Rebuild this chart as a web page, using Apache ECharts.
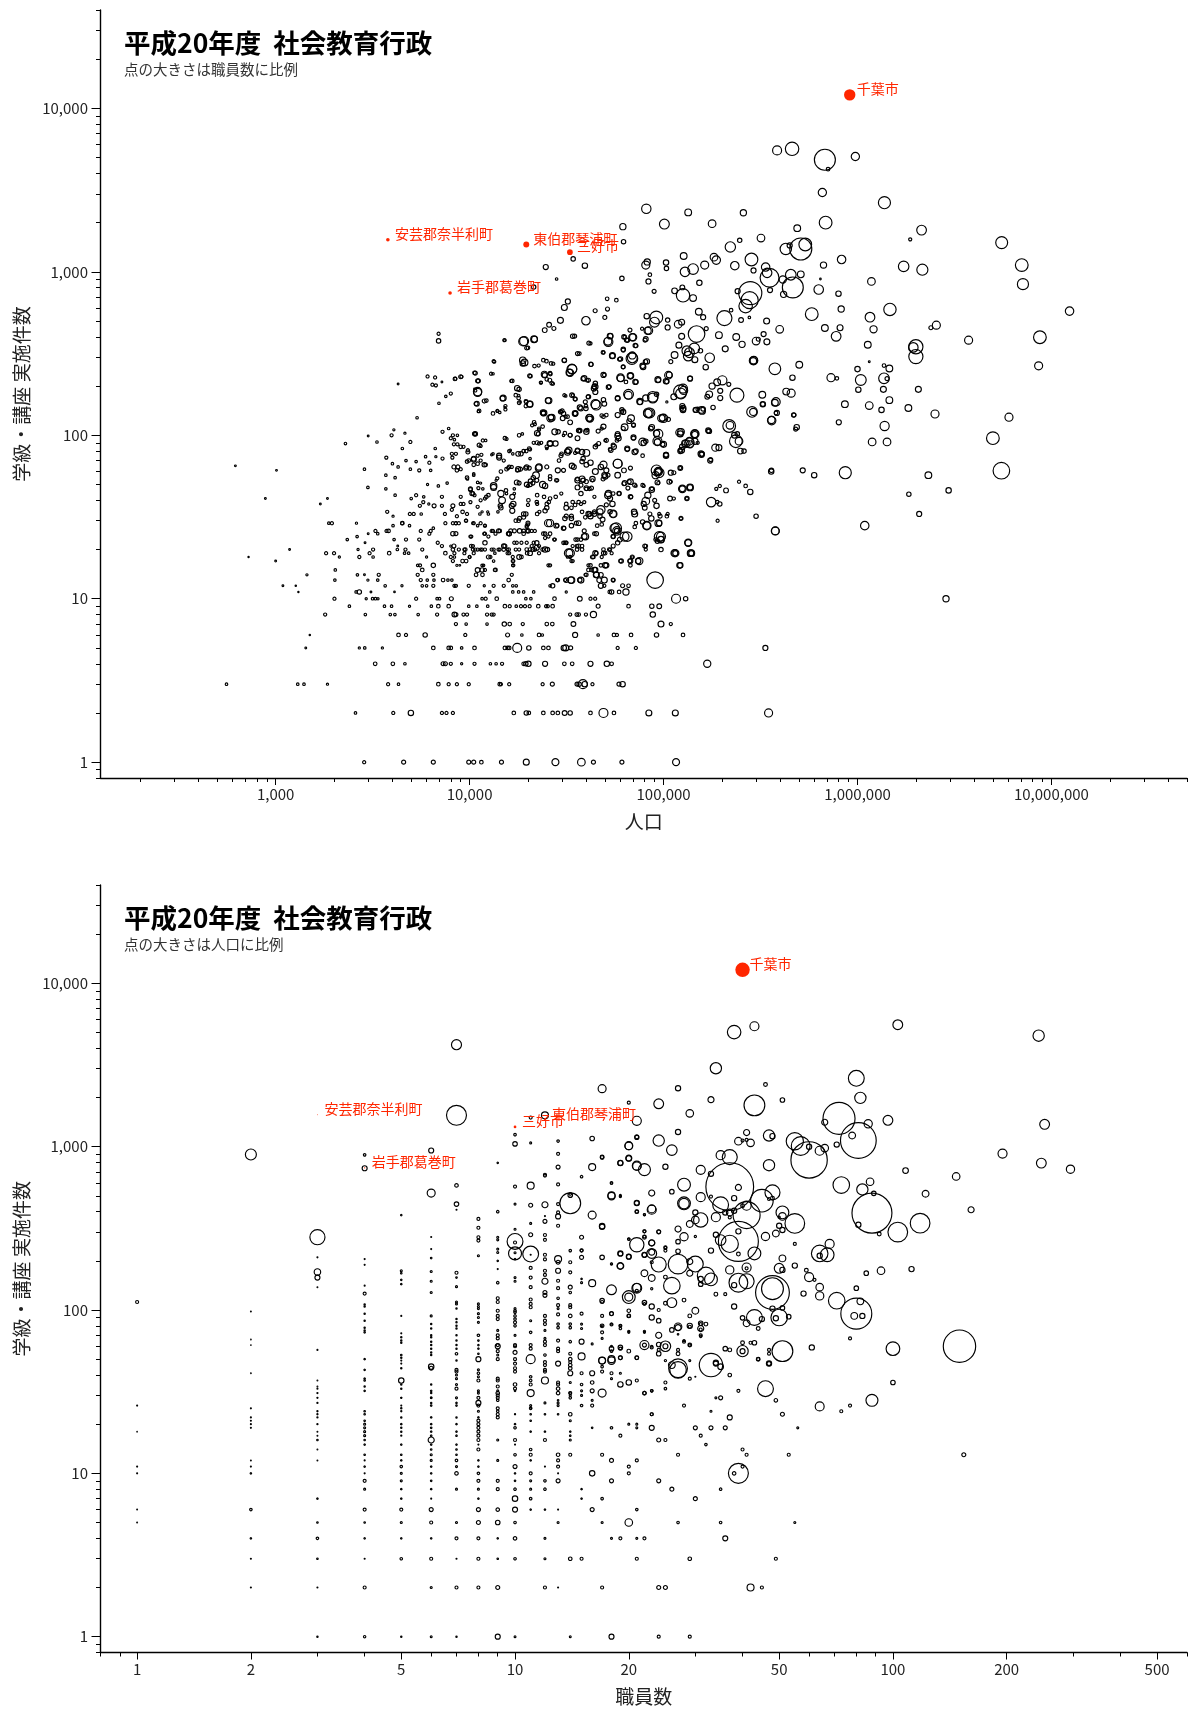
<!DOCTYPE html>
<html><head><meta charset="utf-8">
<script src="https://cdn.jsdelivr.net/npm/echarts@6/dist/echarts.min.js"></script>
<style>html,body{margin:0;padding:0;background:#fff}#c{width:1190px;height:1710px}</style>
</head><body><div id="c"></div>
<script>
// Chart 1: [population, classes held, staff]
const popLowRows = [
[2860,1,3],[4570,1,5],[6500,1,5],[9900,1,5],[10500,1,5],[11500,1,4],[14600,1,5],[19600,1,11],[27700,1,15],[37700,1,18],[43500,1,5],[61000,1,5],[116000,1,15],
[2580,2,2],[4040,2,3],[4980,2,9],[7200,2,3],[7600,2,3],[8200,2,3],[16900,2,4],[19600,2,6],[20200,2,4],[24000,2,4],[26800,2,4],[28500,2,4],[30900,2,7],[33000,2,6],[42000,2,4],[49000,2,25],[55500,2,4],[84000,2,11],[115000,2,11],[348000,2,20],
[558,3,2],[1300,3,2],[1400,3,2],[1850,3,1.5],[3800,3,3],[4300,3,2],[6900,3,4],[7800,3,3],[8600,3,3],[9900,3,3],[14300,3,4],[14500,3,3],[16000,3,3],[23800,3,3],[26700,3,5],[35800,3,5],[36700,3,6],[38400,3,25],[39200,3,9],[43000,3,3],[58900,3,5],[61500,3,9],
[3260,4,4],[4020,4,4],[4640,4,2],[7300,4,5],[7500,4,5],[8000,4,3],[9100,4,1.5],[10600,4,3],[12800,4,2],[13700,4,2],[14700,4,3],[19000,4,4],[19500,4,6],[20100,4,9],[24500,4,8],[30800,4,4],[33800,4,4],[42000,4,8],[51000,4,9],[54000,4,4],[168000,4,16],
[1430,5,1],[2700,5,1.5],[2880,5,2],[3550,5,1.5],[6500,5,4],[7800,5,4],[8000,5,4],[9100,5,2],[10600,5,4],[15200,5,4],[15700,5,4],[16000,5,4],[17600,5,25],[20200,5,6],[24000,5,4],[25500,5,4],[30600,5,9],[31300,5,11],[33200,5,5],[58000,5,3],[72000,5,3],[335000,5,8],
[1500,6,0.6],[4300,6,4],[4700,6,3],[5900,6,6],[9500,6,3],[15700,6,5],[18600,6,2],[22800,6,4],[23700,6,2],[35000,6,8],[46000,6,2],[55500,6,4],[57500,6,3],[68000,6,4],[92000,6,6],[126000,6,4],
[8500,7,3],[9600,7,2],[12300,7,2],[15100,7,6],[16100,7,4],[18800,7,3],[25000,7,4],[26700,7,4],[34300,7,7],[97000,7,11],[109000,7,3],
[1800,8,3],[2900,8,2],[3900,8,2],[4120,8,2],[5430,8,2],[6800,8,3],[8350,8,7],[8500,8,5],[9300,8,3],[9700,8,3],[12300,8,3],[13000,8,3],[13300,8,3],[33000,8,3],[35700,8,4],[36500,8,4],[39800,8,3],[43500,8,12],[88000,8,9],
[2400,9,2],[3640,9,2],[3960,9,2],[4900,9,1.5],[6350,9,2],[6900,9,4],[7800,9,4],[9900,9,2],[10900,9,2],[12400,9,2],[15200,9,4],[16100,9,3],[17400,9,2],[18400,9,3],[19300,9,3],[20400,9,3],[22600,9,4],[24800,9,3],[25300,9,3],[26800,9,4],[46000,9,5],[66000,9,4],[87000,9,6],[95000,9,7],
[2010,10,3],[2930,10,1.5],[3160,10,2],[3270,10,2],[3370,10,1.5],[5300,10,3],[6800,10,2],[7000,10,2],[8050,10,5],[11600,10,2],[12100,10,3],[13800,10,4],[19500,10,2],[20700,10,2],[27400,10,4],[37000,10,7],[42000,10,3],[44400,10,3],[116000,10,25],[130000,10,6],
[1310,11,0.5],[2600,11,2],[2700,11,6],[3100,11,1],[4100,11,0.8],[12700,11,2],[16700,11,2],[17900,11,2],[19000,11,2],[21400,11,2],[31500,11,1.5],[52800,11,4],[54000,11,6],[59000,11,4],[64000,11,12],
[1090,12,1],[1270,12,0.6],[3670,12,2],[4480,12,1.5],[5700,12,2],[6000,12,2],[6500,12,3],[8350,12,3],[8500,12,3],[9900,12,3],[11900,12,1.5],[13300,12,3],[15000,12,3],[16700,12,2],[17400,12,2],[26000,12,2],[26800,12,6],[47500,12,8],[49500,12,3],[61500,12,5],[66000,12,4],
[2020,13,2],[2990,13,1.5],[3360,13,2],[5600,13,3],[6050,13,2],[6550,13,2],[7300,13,4],[7730,13,2],[8100,13,2],[15900,13,4],[28300,13,3],[31100,13,3],[33300,13,12],[37000,13,6],[46600,13,7],[55000,13,3],[90500,13,85],
[1450,14,1.5],[2640,14,2],[2870,14,1],[3400,14,3],[5400,14,3],[6500,14,3],[11650,14,4],[16500,14,3],[39600,14,3],[45000,14,9],
[2030,15,2],[5700,15,4],[11600,15,6],[12000,15,3],[13500,15,3],[41000,15,4],[44000,15,9],
[5400,16,2],[5550,16,3],[6500,16,6],[8900,16,1],[11600,16,2],[16700,16,2],[26000,16,3],[41000,16,3],[47500,16,4],[50000,16,9],[122000,16,9],
[1000,17,1],[13300,17,2],[16700,17,3],[33500,17,3],[60000,17,4],[67000,17,5],[74000,17,9],
[725,18,0.5],[2130,18,1.5],[2700,18,3],[3180,18,2],[6000,18,1.5],[8350,18,2],[10000,18,2],[12800,18,3],[16700,18,3],[18500,18,4],[33000,18,3],[43500,18,4],[48000,18,3],[69000,18,2],
[1820,19,3],[2000,19,3],[3050,19,3],[3850,19,4],[4620,19,2],[4850,19,2],[7500,19,4],[8350,19,3],[9400,19,3],[10500,19,3],[13500,19,2],[15700,19,3],[19800,19,4],[22800,19,3],[32400,19,22],[45000,19,4],[50000,19,4],[54000,19,3],[114000,19,16],[138000,19,14],
[1180,20,1],[2660,20,1.5],[3180,20,3],[4240,20,2],[4670,20,3],[5700,20,3],[8200,20,4],[9400,20,3],[10400,20,3],[11400,20,3],[12000,20,3],[13300,20,3],[14100,20,3],[15000,20,4],[15700,20,2],[17300,20,3],[20500,20,4],[21700,20,4],[23800,20,4],[25200,20,6],[35800,20,4],[38000,20,4],[53000,20,3],[81000,20,3],[97000,20,6]
];
const popMidRows = [
[2340,23,2],[2630,24,2],[2890,22,1],[3000,25,1],[3270,26,3],[3360,25,2],[3730,26,3],[3820,26,4],[4080,23,2],[4260,21,1],[4700,23,3],[4030,28,2],[4490,29,3],[4900,28,2],[5600,26,3],[5500,23,3],[6200,25,3],[6300,26,3],[6500,27,2],[6850,22,3],[7200,21,3],[8500,25,5],[8300,21,5],[10200,24,3],[10400,21,3],[11900,25,3],[13000,26,3],[14100,26,5],[16000,25,6],[16300,26,5],[15000,21,6],[17000,22,3],[19000,25,4],[19900,26,3],[21700,26,3],[21400,22,3],[22800,21,3],[24500,25,4],[25500,24,3],[27300,23,3],[30900,22,3],[31500,22,4],[35200,23,4],[39000,24,10],[44000,25,4],[35800,21,4],[38000,21,4],[56000,27,28],[57500,26,8],[62900,24,25],[55000,24,4],[81000,21,4],[95000,24,30],[97000,23,12],[91000,23,4],[134000,22,12],[377000,26,20],
[1700,38,1],[1850,41,1],[1880,29,2],[1950,29,3],[2610,29,1.5],[3760,34,3],[4030,32,1.5],[4500,29,4],[4920,33,3],[5150,33,3],[5630,33,2],[5000,41,2],[5300,43,3],[5540,37,3],[5770,39,3],[5800,42,2],[6160,38,1.5],[6560,37,5],[7200,37,3],[7200,42,3],[7460,33,3],[7500,29,3],[8200,37,5],[8500,29,3],[8800,29,3],[9000,42,3],[9300,38,3],[9570,30,3],[10500,29,3],[11400,29,3],[12000,28,3],[11400,40,3],[11600,34,1.5],[12400,34,1.5],[14500,44,12],[14400,37,6],[16600,42,8],[16500,37,8],[20100,40,4],[22200,39,4],[22900,34,3],[25600,39,4],[25000,38,4],[18100,31,5],[19000,33,6],[19500,33,6],[20000,29,5],[26000,29,16],[28300,28,4],[30700,27,4],[31500,32,5],[33500,32,5],[35500,29,5],[31500,38,4],[34000,39,4],[37500,38,3],[41000,33,8],[41500,33,7],[44000,34,5],[47000,34,12],[47000,32,6],[45500,28,4],[53000,41,8],[53000,34,6],[55000,33,18],[70500,34,9],[72000,29,4],[79000,38,8],[82000,28,16],[83000,43,12],[85000,33,5],[90000,40,5],[95000,29,9],[95000,33,3],[105000,33,3],[123000,31,3],[176000,39,28],[189000,39,4],[195000,38,6],[190000,30,3],[300000,32,6],
[2870,62,2],[2990,48,2],[3700,47,2],[3700,57,2],[4130,55,2],[4130,43,2],[6070,50,1.5],[6900,49,2],[7660,51,2],[9750,54,2],[10500,57,2],[10100,47,5],[10400,44,4],[11400,51,1.5],[11700,47,2],[12200,42,4],[13300,48,11],[13700,53,1.5],[15400,46,4],[17000,47,2],[18000,51,5],[20000,49,3],[21200,51,5],[22200,53,5],[22700,63,14],[24500,49,9],[26000,54,4],[28300,53,3],[43000,53,3],[38500,53,6],[36000,53,9],[40000,47,4],[41500,47,4],[44000,42,3],[48800,54,5],[50000,56,9],[52000,44,12],[59000,44,4],[68000,42,4],[63000,51,7],[66500,52,5],[72000,49,2],[79000,49,3],[87000,47,4],[94000,51,3],[109000,52,3],[113000,41,3],[125000,47,11],[137000,48,9],[132000,41,3],[187000,47,3],[195000,49,3],[210000,46,7],[245000,52,3],[265000,49,4],[280000,45,9],[91000,57,16],[95000,59,28],[113000,59,5],[122000,63,3],[360000,61,6],
[620,65,1],[1010,61,1],[885,41,1],[2290,89,2],[3000,99,1],[3330,91,2],[3960,100,3],[4070,108,1.5],[4640,103,1.5],[4950,91,3],[4500,83,2],[3720,73,3],[4000,67,2],[4280,64,2],[4700,70,2],[5300,69,2],[4950,62,2],[5500,61,3],[6300,61,2],[5930,74,2],[6200,68,3],[6700,74,1.5],[7250,72,3],[8150,73,3],[8500,77,3],[6650,83,2],[7250,105,3],[7800,110,2],[8650,100,2],[8350,94,2],[8650,88,3],[9300,85,3],[9800,81,3],[10600,102,5],[11400,86,3],[12100,93,2],[11500,76,3],[13000,76,1.5],[9900,70,4],[10500,71,8],[11400,70,3],[12100,66,4],[14200,75,8],[15000,70,3],[8700,64,5],[9000,62,3],[15500,95,3],[16200,81,2],[16700,77,2],[18700,102,2],[18400,77,6],[19600,80,4],[20500,82,3],[20500,72,2],[15800,63,3],[16500,64,3],[17600,61,4],[18300,62,5],[19500,63,6],[20300,63,5],[21700,117,3],[22800,108,3],[22600,102,5],[21400,90,3],[22800,89,3],[23400,90,3],[25000,83,2],[27700,89,9],[26500,128,14],[24000,136,7],[29600,140,3],[31300,130,3],[28600,105,6],[30500,100,2],[33000,100,5],[37000,106,4],[40000,107,4],[32000,80,7],[29800,77,4],[28900,70,4],[34500,64,7],[38000,79,9],[38500,72,6],[42000,68,9],[47500,64,9],[58000,67,24],[35000,78,3],[45000,87,3],[48000,110,3],[50000,93,2],[41600,126,9],[35000,136,6],[48000,132,4],[58000,102,7],[61000,139,4],[62000,110,5],[66500,122,7],[70000,115,5],[70000,96,5],[65000,82,6],[71000,79,9],[53000,82,4],[55000,87,5],[83000,136,22],[79000,90,9],[86000,110,7],[92000,103,12],[93000,91,12],[99000,88,6],[99000,128,14],[103000,76,7],[122000,102,11],[124000,146,4],[122000,81,4],[137000,88,16],[145000,101,12],[150000,145,4],[160000,145,6],[158000,77,7],[175000,71,5],[170000,106,5],[193000,84,11],[220000,115,18],[240000,102,6],[245000,92,18],[260000,80,6],[290000,139,16],[325000,155,6],[360000,124,16],[375000,158,14],[380000,137,4],[470000,133,5],[480000,109,5]
];
const popCoreUpper = [
[15100,382,3],[18900,375,25],[21500,387,14],[19700,342,5],[34000,404,6],[41200,366,5],[51700,376,18],[53000,404,10],[62500,400,6],[64500,383,6],[69000,398,16],[71500,354,6],[81000,388,7],[84000,437,18],[48700,321,4],[54500,307,11],[62000,336,6],[60000,293,6],[69000,298,30],[69000,308,16],[61900,262,5],[82000,283,9],[78000,266,9],[36000,316,5],[42200,272,6],[30800,288,6],[26300,275,4],[24000,288,4],[21600,265,4],[18800,288,13],[18800,275,9],[13300,284,3],[12900,238,3],[10700,240,5],[9000,228,5],[8400,221,4],[11100,215,5],[16600,215,4],[20400,231,5],[24300,236,12],[26000,240,4],[25000,220,4],[23300,210,3],[26500,208,4],[33800,254,25],[33000,241,16],[49000,234,8],[39000,223,9],[41000,217,5],[60000,225,18],[67500,231,13],[64000,212,4],[71500,212,8],[93500,219,11],[103000,214,9],[106000,233,18],[137000,222,8],[52000,197,6],[44500,208,6],[43700,193,8],[44500,184,8],[44000,199,7],[10700,188,3],[11000,185,22],[17600,194,9],[17300,176,4],[17900,169,4],[18000,158,4],[14900,169,11],[11900,162,5],[10900,156,7],[11200,141,4],[13200,136,4],[13900,141,3],[14300,138,2],[15300,151,3],[15300,144,3],[19500,161,4],[20400,155,11],[19500,151,4],[25400,163,10],[30800,176,3],[33700,176,6],[35000,167,5],[41000,172,6],[39500,160,5],[44500,155,25],[37000,148,8],[35000,136,10],[39800,146,6],[49000,165,6],[49500,156,7],[41700,127,18],[58000,169,7],[66000,178,30],[75500,161,12],[81000,169,12],[88000,172,35],[92000,178,6],[104000,160,1.5],[113000,172,11],[122000,185,55],[126000,193,25],[125000,151,8],[126000,143,9],[85000,137,30],[100000,127,22],[106000,125,5],[146000,143,7],[158000,141,14],[62000,139,8],[61000,143,6],[58000,133,8],[68000,127,14],[49000,130,4],[50700,133,4],[23900,138,9],[26100,127,16],[30000,141,5],[30500,136,6],[30200,127,7],[32000,130,4],[33000,120,7],[21500,120,4],[23800,113,4],[22800,110,3],[22300,103,9],[21000,115,3],[27500,105,11],[31000,103,4],[33000,100,5],[36500,107,6],[36000,96,7],[37000,107,6],[40000,105,9],[40500,108,3],[46000,106,5],[49000,113,8],[26000,89,11],[26000,89,7],[22300,90,5],[25000,85,4],[36000,81,6],[18000,100,4],[15200,96,4],[11700,93,3],[10700,102,6],[10700,102,3],[8200,100,3],[8000,96,3],[8300,88,3],[9000,85,4],[9800,79,5],[11200,87,5],[8100,77,3],[50700,93,5],[58000,99,10],[58700,96,8],[57500,93,4],[70000,97,8],[63000,112,14],[70000,116,5],[87000,112,9],[94000,102,25],[93000,92,25],[100000,88,11],[78000,91,18],[81000,92,6],[121000,104,18],[145000,102,22],[170000,107,8],[136000,92,18],[131000,89,18],[125000,85,10],[122000,80,8],[150000,90,3],[65000,83,8],[72000,80,7],[55500,85,8],[53500,81,6],[44500,85,6],[46300,89,5],[40000,78,14],[36000,80,7],[32500,81,12],[32000,79,12],[29600,75,5],[17800,77,7],[20300,83,4],[19000,80,4],[16000,80,3],[14200,73,8],[13200,77,2],[11000,75,3],[10500,72,7],[103000,75,9],[157000,76,9],[78000,75,4]
];
const popCoreLower = [
[58000,67,25],[92000,61,35],[94000,60,22],[94000,60,11],[122000,63,7],[109000,59,8],[107000,52,7],[125000,47,18],[137000,48,14],[93000,51.5,7],[87000,46.5,9],[78000,49.5,4],[71000,49.5,5],[108000,41,7],[132000,41,6],[81000,39.5,18],[92000,37,9],[80000,36,7],[71000,33,11],[86500,31,9],[94000,29,14],[96000,32,5],[82000,28,22],[78000,29.5,6],[104000,32,4],[123000,31,5],[71000,27.5,4],[49000,66,16],[44500,60,11],[50700,61,8],[49500,57,8],[51700,57,5],[58000,57,10],[62500,61,7],[67500,63,5],[36000,54,5],[38000,54,11],[43000,54,9],[67500,52,10],[62500,50.5,5],[65500,47.5,5],[59000,44,6],[51700,43,14],[55000,44,4],[67500,42,6],[33700,65,9],[40000,66,7],[38000,69,6],[30500,61,5],[28500,61,8],[25000,64,5],[22800,64,12],[19700,64,6],[17800,62,8],[16000,64,4],[15500,62,4],[11900,66,6],[11000,67,4],[10500,66,4],[8600,61,4],[8300,64,5],[9700,69,4],[10500,58,2],[9700,55,4],[26000,56,4],[28000,53,4],[22000,57,14],[21300,55,6],[20600,52.5,6],[20500,50,6],[19700,50,7],[17500,51.5,7],[13900,54.5,3],[14500,60,4],[23800,50,12],[36000,48,7],[40000,47.5,7],[37500,49.5,5],[40000,52,5],[37500,44,6],[42500,47.5,5],[11000,51.5,2],[11100,47.5,3],[13300,49,13],[10100,46.5,5],[10300,44,6],[10600,43,3],[10100,39,3],[12500,43,4],[12000,41,3],[14700,40,14],[15500,44,2],[17000,44,2],[16800,38,9],[14500,36,6],[14000,34,2],[16600,34.5,8],[11000,36.5,3],[9000,38,3],[8100,35,3],[9200,34,4],[9700,33,3],[8600,32,3],[11300,33,2],[12500,33,2],[22300,43,4],[24200,42,4],[26000,41,4],[27800,42,4],[29700,44,3],[20000,37.5,3],[22300,38,3],[25000,36,6],[24500,34.5,6],[22300,33,4],[19000,31.5,5],[17900,30,4],[17300,30,4],[20000,28.5,3],[19700,27.5,3],[25400,29,16],[28000,28,7],[30500,27,6],[31500,36,7],[36500,39,4],[35000,37.5,4],[33500,36,4],[39000,39,3],[38000,34,4],[31000,31,6],[33500,31,6],[36500,29,7],[33500,28,6],[39500,31.5,4],[42000,32,9],[44000,33,7],[47500,35,22],[48500,30.5,7],[54500,38,9],[50700,37.5,5],[55000,33,13],[48000,28.5,4],[45000,25,6],[39000,26,5],[39500,24,14],[36000,23,4],[37500,23,4],[31500,22,3],[30500,22,4],[36500,21,5],[34000,21,3],[57000,27,35],[57500,26,22],[65000,24,28],[55000,24,6],[59500,23,7],[58000,22,6],[97000,24,25],[97000,23,14],[93000,22.5,6],[134000,22,16],[80000,21,5],[55000,21,5],[52500,20,4],[115000,19,16],[115000,19,8],[139000,19,14],[139000,19,8],[75000,17,16],[69000,18,5],[67500,17,7],[60500,17,6],[67500,16,4],[121000,16,10],[49000,20,4],[44500,19,8],[43000,18,5],[49000,19,5],[50700,16,8],[42000,16,4],[42500,15,4],[44500,15,8],[45000,14,11],[47500,14,7],[49500,13,11],[55000,13,5],[37500,13,11],[40000,14,4],[33500,13,14],[31500,13,7],[28500,13,4],[33000,19,22],[32000,18,2],[34000,17,3],[25500,16,3],[18000,18,7],[16800,17,3],[16800,16,3],[13600,15,4],[11800,16,2],[11000,15,7],[10800,14,4],[8600,16,1.5],[9600,17,4],[10000,18,3],[9200,17,4],[8200,17,3],[8000,18,3],[9500,20,4],[10200,21,4],[10700,20,3],[11000,20,3],[11600,20,3],[13000,20,3],[12500,18,5],[14300,20,3],[15200,21,5],[15900,20,4],[16000,19,3],[17500,22,3],[18500,22,3],[19700,22,3],[18000,20,3],[19700,20,4],[20500,19,7],[22200,20.5,8],[21200,20,5],[22200,22,6],[20900,21,3],[24500,20,9],[27500,23,3],[24000,25,4],[26000,25,4],[24500,23.5,3],[20900,26,3],[20000,26,6],[18100,26,6],[19000,26,4],[19700,28,3],[17000,26,5],[15800,25,4],[16000,25,6],[14300,26,4],[13200,26,3],[13600,25,3],[12500,24,3],[12000,25,3],[12000,22,6],[11000,28,2],[12000,28,2],[10100,24,3],[8200,25,6],[9600,30,3],[10400,29,2],[8200,29,3],[8500,29,3],[8000,21,1.5],[8800,20,3]
];
const popHighRows = [
[385000,5530,25],[460000,5660,56],[679000,4850,136],[705000,4250,4],[975000,5080,21],[659000,3060,21],[1377000,2650,45],[81500,2430,27],[134000,2310,14],[258000,2300,12],[101000,1960,30],[178000,1970,18],[61700,1890,12],[62200,1530,6],[685000,2000,50],[489000,1850,14],[2140000,1800,29],[1870000,1580,3],[318000,1610,18],[247000,1560,6],[221000,1420,33],[427000,1380,40],[447000,1450,8],[510000,1380,150],[538000,1470,50],[284000,1190,50],[127000,1250,14],[182000,1230,18],[187000,1180,22],[82400,1150,12],[81000,1100,20],[103000,1140,9],[103500,1050,6],[163000,1100,20],[142000,1040,35],[129000,1000,28],[233000,1090,22],[336000,1070,22],[291000,1020,8],[668000,1100,12],[828000,1190,22],[342000,986,28],[352000,920,110],[453000,960,35],[510000,965,14],[412000,898,16],[464000,803,135],[644000,904,0.8],[1180000,874,18],[1730000,1080,34],[2160000,1030,38],[5540000,1510,44],[7030000,1100,50],[7130000,841,38],[12400000,575,22],[61000,912,6],[85000,960,4],[83600,873,8],[89400,760,5],[153000,857,9],[114000,765,10],[125000,803,7],[126000,718,55],[142000,691,14],[51200,684,4],[57100,671,4],[51400,592,5],[241000,762,8],[280000,741,165],[278000,671,90],[265000,617,56],[354000,773,8],[416000,728,12],[631000,780,28],[798000,735,9],[824000,592,12],[1470000,589,47],[1160000,528,29],[1210000,445,16],[581000,551,50],[679000,453,14],[813000,455,11],[776000,403,29],[1130000,358,14],[1150000,282,1],[2550000,472,20],[2390000,455,5],[3740000,382,20],[8720000,398,50],[8590000,266,20],[2000000,348,62],[1940000,345,28],[2000000,303,62],[1000000,254,9],[1370000,267,4],[1460000,256,14],[1370000,223,35],[1420000,222,5],[1040000,218,36],[1360000,191,11],[1010000,190,9],[2060000,191,11],[730000,225,20],[783000,223,4],[1460000,164,14],[1150000,152,18],[861000,155,14],[1330000,143,9],[1830000,147,14],[2510000,135,20],[6040000,129,20],[801000,120,8],[1380000,114,26],[1190000,91,18],[1420000,91,18],[4990000,96,50],[5520000,60.7,85],[1090000,28,22],[2860000,10,12],[377000,26,18],[359000,60,9],[522000,61,8],[598000,57,9],[865000,59,45],[2320000,57,14],[2950000,46,9],[1840000,43.6,6],[2080000,33,8],
[49800,526,5],[81900,535,9],[91800,526,50],[89800,492,30],[105000,507,6],[105000,457,8],[82800,436,16],[77500,449,3],[119000,478,18],[124000,492,11],[152000,570,14],[160000,528,8],[206000,521,70],[223000,583,4],[251000,507,7],[277000,526,2],[340000,500,11],[397000,445,18],[328000,416,8],[166000,449,5],[148000,416,85],[124000,403,11],[193000,410,14],[237000,399,14],[300000,377,18],[308000,387,5],[341000,373,11],[254000,360,12],[208000,338,11],[120000,356,11],[144000,340,35],[132000,329,30],[136000,320,30],[155000,329,6],[114000,310,14],[173000,298,28],[145000,290,11],[134000,305,28],[109000,282,5],[165000,261,9],[291000,286,22],[290000,285,14],[292000,288,18],[375000,255,42],[501000,270,14],[462000,225,9],[137000,223,7],[107000,234,11],[93900,218,7],[104000,213,6],[201000,217,26],[189000,211,14],[178000,200,12],[217000,205,5],[127000,188,20],[123000,180,35],[196000,187,8],[172000,178,14],[168000,172,7],[196000,169,8],[239000,176,60],[323000,177,14],[429000,185,14],[455000,181,20],[380000,160,22],[325000,155,9],[286000,139,35],[384000,137,8],[361000,123,22],[469000,133,6],[486000,112,9],[218000,114,50],[232000,100,10],[236000,92,50],[185000,84,16],[249000,80,10],[174000,70,8],[156000,77,11],[172000,106,7],[145000,102,16],[123000,105,14],[145000,92,12],[136000,90,28],[129000,89,14],[124000,81,10],[103000,76,8],[97300,127,16],[83500,137,30],[88000,169,30],[126000,146,11],[147000,143,8],[157000,143,14],[180000,148,6],[75600,160,8],[65800,176,18],[58000,168,7],[72100,212,6],[60100,223,14],[67500,231,9],[49500,234,4],[52500,198,5],[78500,262,9],[80700,282,6],[68700,295,42],[62000,262,4],[59300,292,5],[54500,306,8],[49100,321,3],[62000,332,5],[72100,353,5],[65200,380,5],[63100,398,4],[69700,398,16],[80300,382,5],[51900,373,26],[53200,405,8],[67100,440,5],
[34200,1200,6],[39300,1090,9],[24700,1070,8],[28100,904,2],[21400,807,6],[32100,659,8],[30800,605,11],[44400,578,5],[29400,505,11],[39800,502,22],[25700,475,7],[24400,440,7],[27200,450,5],[6920,418,3],[6920,378,6],[34800,404,5],[15200,382,2],[19100,377,25],[21600,387,11],[20000,343,4],[42000,365,3],[36800,316,4],[13400,282,3],[19200,279,14],[30800,287,6],[24900,284,4],[27000,274,3],[22700,267,3],[42300,271,5],[33700,254,30],[32700,242,14],[4280,206,1],[6070,229,3],[6640,226,3],[6430,204,3],[6700,202,3],[7200,212,1],[8450,222,3],[9080,228,3],[10600,241,4],[13200,238,2],[11000,215,5],[16400,215,3],[24400,233,8],[26100,237,4],[20600,230,4],[25900,217,5],[23400,210,2],[26900,207,3],[38500,222,6],[40400,217,4],[44400,198,10],[8000,180,3],[7540,173,2],[6950,157,2],[10600,192,1],[11000,183,20],[18000,191,6],[14800,168,8],[17900,175,2],[18200,160,2],[12200,163,4],[10800,156,5],[13900,141,1.5],[15200,148,1],[11100,140,2],[19600,160,4],[20500,155,11],[25600,163,12],[31300,174,2],[34100,176,3],[35100,166,4],[40800,172,4],[24200,137,10],[29400,139,5],[35100,136,7],[37500,146,7],[39800,151,4],[45000,153,30],[26300,129,9],[41400,128,15],[5360,128,2]
];
const popHighlight = [["千葉市",912000,12100,40],["安芸郡奈半利町",3790,1570,4],["東伯郡琴浦町",19600,1470,11],["三好市",32900,1320,10],["岩手郡葛巻町",7930,742,4]];

// Chart 2: [staff, classes held, population]
const staffLowRows = [
[3,1,8000],[4,1,25000],[5,1,8000],[6,1,15000],[7,1,8000],[9,1,110000],[10,1,15000],[14,1,15000],[18,1,110000],[24,1,40000],[29,1,40000],
[2,2,4400],[3,2,4400],[4,2,40000],[6,2,17500],[7,2,40000],[8,2,40000],[9,2,70000],[12,2,40000],[13,2,4400],[17,2,40000],[24,2,70000],[25,2,70000],[42,2,215000],[45,2,40000],
[2,3,4400],[3,3,10000],[4,3,4400],[5,3,27000],[6,3,40000],[7,3,4400],[8,3,40000],[9,3,10000],[10,3,27000],[12,3,17500],[14,3,54000],[15,3,40000],[21,3,40000],[29,3,54000],[49,3,40000],
[2,4,10000],[3,4,27000],[4,4,10000],[5,4,10000],[6,4,10000],[7,4,40000],[8,4,40000],[9,4,10000],[10,4,54000],[12,4,17500],[18,4,17500],[19,4,40000],[21,4,17500],[22,4,40000],[36,4,110000],
[1,5,3000],[3,5,10000],[4,5,10000],[5,5,17500],[6,5,40000],[7,5,17500],[8,5,70000],[9,5,90000],[10,5,27000],[13,5,17500],[17,5,17500],[20,5,250000],[27,5,27000],[35,5,27000],[55,5,17500],
[1,6,3000],[2,6,27000],[4,6,40000],[5,6,40000],[6,6,70000],[8,6,70000],[9,6,54000],[10,6,110000],[11,6,10000],[12,6,10000],[13,6,4400],[16,6,70000],[21,6,27000],
[3,7,10000],[5,7,10000],[6,7,4400],[8,7,10000],[10,7,130000],[11,7,27000],[15,7,10000],[17,7,27000],[30,7,70000],
[4,8,17500],[5,8,10000],[6,8,10000],[7,8,17500],[8,8,17500],[9,8,40000],[10,8,27000],[11,8,17500],[12,8,27000],[15,8,10000],[26,8,70000],[35,8,27000],
[4,9,40000],[5,9,17500],[6,9,10000],[8,9,40000],[9,9,40000],[10,9,10000],[11,9,17500],[12,9,27000],[13,9,70000],[18,9,70000],[24,9,70000],
[1,10,4400],[2,10,10000],[4,10,4400],[5,10,17500],[6,10,10000],[7,10,54000],[8,10,27000],[10,10,10000],[11,10,40000],[13,10,4400],[16,10,130000],[20,10,40000],[38,10,54000],[39,10,1750000],
[1,11,4400],[2,11,4400],[4,11,10000],[5,11,27000],[6,11,10000],[7,11,17500],[8,11,10000],[10,11,70000],[12,11,4400],[13,11,40000],[20,11,40000],[40,11,40000],
[2,12,3000],[3,12,3000],[4,12,4400],[5,12,10000],[6,12,17500],[7,12,27000],[8,12,10000],[9,12,17500],[11,12,10000],[13,12,40000],[18,12,70000],[21,12,40000],
[4,13,10000],[5,13,10000],[6,13,17500],[7,13,10000],[10,13,27000],[11,13,40000],[13,13,54000],[14,13,40000],[17,13,40000],[27,13,40000],[53,13,40000],[41,13,40000],
[3,14,3000],[6,14,10000],[7,14,10000],[8,14,40000],[11,14,27000],[40,14,40000],
[4,15,10000],[5,15,10000],[6,15,10000],[7,15,10000],[8,15,4400],[10,15,4400],[32,15,27000],
[3,16,10000],[4,16,10000],[6,16,160000],[8,16,40000],[9,16,17500],[10,16,40000],[12,16,40000],[14,16,17500],[24,16,70000],[25,16,40000],
[3,17,3000],[4,17,17500],[5,17,6000],[6,17,10000],[7,17,10000],[8,17,40000],[14,17,10000],[19,17,40000],[31,17,40000],
[3,18,3000],[1,18,2000],[4,18,17500],[5,18,8000],[6,18,10000],[7,18,10000],[8,18,40000],[11,18,10000],[12,18,10000],[14,18,10000],
[4,19,17500],[5,19,8000],[6,19,10000],[8,19,40000],[10,19,27000],[16,19,10000],[18,19,27000],[21,19,17500],[23,19,110000],[30,19,70000],[33,19,70000],[36,19,70000],[56,19,17500],[2,19,4400],
[2,20,4400],[3,20,6000],[4,20,17500],[5,20,10000],[6,20,10000],[7,20,10000],[8,20,40000],[10,20,10000],[20,20,17500],[21,20,17500],[2,21,4400],[4,21,10000],[8,21,40000],[11,21,10000],
[3,22,6000],[5,22,8000],[6,22,10000],[7,22,8000],[8,22,10000],[9,22,40000],[2,22,4400],[37,22,110000],[4,23,10000],[3,23,6000],[9,23,40000],[13,23,10000],[23,23,40000],[51,23,70000],[14,23,54000],[10,23,6000],[11,23,10000],[12,23,10000],
[3,24,6000],[4,24,10000],[5,24,6000],[8,24,17500],[9,24,27000],[33,24,17500],[11,25,17500],[5,25,8000],[6,26,10000],[7,26,10000],[8,26,40000],[9,25,40000],[2,25,4400],[1,26,4400],[15,26,27000],[16,26,40000],[13,26,17500],[14,21,17500],[28,26,40000],
[7,27,10000],[13,27,17500],[12,27,17500],[3,27,6000],[16,28,17500],[49,28,54000],[13,28,10000],[9,28,27000],[5,29,6000],[3,29,6000],[34,29,17500],[35,29,70000],[8,29,40000],[6,29,10000],[7,29,17500],[15,30,17500],[16,32,70000],[23,32,27000],[22,31,54000],[14,31,27000],[11,31,215000],[17,31,280000],[9,30,40000],[39,32,40000],[3,31,6000],[13,31,54000],[14,30,17500],[8,31,17500],[10,32,10000]
];
const staffMidRows = [
[1,112,40000],[2,98,3000],[2,66,2000],[2,61,2000],[2,41,2500],[3,57,4400],[3,37,3000],[3,34,3000],[3,33,4400],
[4,126,40000],[4,108,8000],[4,105,8000],[4,95,8000],[4,86,8000],[4,78,8000],[4,75,8000],[4,73,10000],[4,50,10000],[4,43,10000],[4,38,10000],[4,37,10000],[4,34,8000],[4,32,10000],
[5,92,4400],[5,72,4400],[5,68,8000],[5,65,8000],[5,63,8000],[5,53,10000],[5,51,8000],[5,49,4400],[5,47,4400],[5,44,8000],[5,37,130000],[5,35,8000],[5,33,8000],[5,29,4400],[5,26,4400],
[6,128,17500],[6,92,17500],[6,82,8000],[6,77,8000],[6,70,8000],[6,68,8000],[6,64,8000],[6,61,8000],[6,58,8000],[6,55,8000],[6,53,8000],[6,45,130000],[6,44,70000],[6,35,8000],[6,32,10000],[6,31,8000],[6,29,8000],[6,27,8000],
[7,112,17500],[7,109,17500],[7,102,8000],[7,88,8000],[7,84,8000],[7,80,8000],[7,77,8000],[7,70,8000],[7,65,8000],[7,61,8000],[7,58,8000],[7,54,27000],[7,49,8000],[7,43,40000],[7,42,40000],[7,40,17500],[7,38,17500],[7,35,17500],[7,33,40000],
[8,109,17500],[8,105,17500],[8,102,17500],[8,95,17500],[8,90,17500],[8,84,17500],[8,70,27000],[8,65,10000],[8,61,10000],[8,58,10000],[8,54,10000],[8,50,110000],[8,43,17500],[8,41,27000],[8,39,17500],[8,37,40000],[8,32,17500],[8,27,110000],
[9,118,40000],[9,112,40000],[9,99,40000],[9,92,40000],[9,88,40000],[9,75,17500],[9,70,40000],[9,67,40000],[9,61,40000],[9,60,110000],[9,56,40000],[9,53,17500],[9,50,40000],[9,38,40000],[9,37,40000],[9,34,40000],[9,32,17500],[9,31,54000],[9,29,40000],
[10,102,17500],[10,99,27000],[10,97,27000],[10,92,27000],[10,88,27000],[10,84,40000],[10,80,27000],[10,70,17500],[10,61,40000],[10,60,40000],[10,55,70000],[10,50,40000],[10,47,40000],[10,44,40000],[10,42,40000],[10,35,54000],[10,33,40000],
[11,116,40000],[11,109,40000],[11,104,40000],[11,86,17500],[11,73,27000],[11,61,40000],[11,58,40000],[11,50,355000],[11,39,27000],[11,37,27000],[11,35,40000],[11,26,17500],[11,25,27000],
[12,128,70000],[12,123,70000],[12,92,40000],[12,86,40000],[12,82,40000],[12,75,17500],[12,67,17500],[12,64,40000],[12,61,40000],[12,53,27000],[12,48,40000],[12,46,40000],[12,43,40000],[12,42,40000],[12,37,215000],
[13,118,27000],[13,107,40000],[13,102,17500],[13,94,40000],[13,82,27000],[13,78,27000],[13,65,40000],[13,58,40000],[13,56,40000],[13,47,110000],[13,36,40000],[13,35,40000],[13,33,54000],
[14,128,27000],[14,107,40000],[14,104,40000],[14,92,54000],[14,82,27000],[14,78,27000],[14,64,27000],[14,54,40000],[14,50,54000],[14,48,40000],[14,46,54000],[14,44,54000],[14,41,110000],[14,36,17500],[14,31,40000],[14,29,27000],
[15,95,40000],[15,82,17500],[15,77,17500],[15,64,110000],[15,52,215000],[15,41,40000],[15,35,27000],[15,32,17500],
[16,62,17500],[16,36,54000],[16,41,110000],
[17,112,40000],[17,80,17500],[17,67,17500],[17,49,215000],[17,45,27000],[17,42,40000],[17,92,40000],[17,114,90000],[17,73,40000],
[18,95,70000],[18,82,17500],[18,60,17500],[18,56,27000],[18,50,215000],[18,41,40000],[18,38,17500],
[19,80,17500],[19,77,27000],[19,58,40000],[19,51,70000],[19,41,17500],[19,35,130000],
[20,120,280000],[20,99,54000],[20,92,40000],[20,73,17500],[20,36,130000],[21,131,40000],[21,51,54000],[21,37,40000],[22,109,27000],[22,73,17500],[22,61,70000],[22,31,54000],[23,32,27000],[23,60,17500],[23,23,40000],[25,60,110000],[25,33,27000],[25,36,40000],[29,38,40000],[29,49,17500],[30,39,4400],[37,40,54000],[27,57,40000],[24,57,40000],[28,65,17500],[29,61,27000],[31,69,27000],[31,76,40000],[31,82,40000],[29,79,40000],[27,78,160000],[40,56,110000],[44,50,40000],[47,47,70000],[47,57,40000],
[46,33,1100000],[64,25.7,350000],[73,24,40000],[77,26,40000],[88,28,630000],[100,36,90000],[154,13,70000],[33,46,2400000],[27,44,1550000],[27,43,1200000],[34,47,110000],[35,45,140000],[26,46,200000]
];
const staffColumnRows = [
[2,895,530000],[3,279,1000000],[3,171,185000],[3,158,110000],[3,210,4400],[3,138,3000],[4,891,27000],[4,738,110000],[4,205,4400],[4,189,4400],[4,141,4400],[5,381,10000],[5,174,17500],[5,168,10000],[5,153,10000],[5,144,10000],[6,948,110000],[6,520,280000],[6,280,4400],[6,236,4400],[6,208,10000],[6,172,17500],[6,150,17500],[7,4210,440000],[7,1556,1750000],[7,579,54000],[7,445,89000],[7,411,4400],[7,169,40000],[7,158,10000],[7,139,17500],[8,361,40000],[8,319,40000],[8,279,40000],[8,266,40000],[8,215,17500],[9,796,10000],[9,400,27000],[9,279,17500],[9,269,17500],[9,236,17500],[9,225,17500],[9,200,10000],[9,178,4400],[9,147,27000],[10,1185,27000],[10,1040,89000],[10,570,40000],[10,445,17500],[10,312,17500],[10,259,40000],[10,263,1100000],[10,222,740000],[10,224,17500],[10,158,17500],[10,150,17500],[10,205,10000],[11,1507,40000],[11,1054,17500],[11,577,215000],[11,438,70000],[11,339,17500],[11,289,70000],[11,220,1100000],[11,218,4400],[11,181,40000],[11,158,40000],[11,138,40000],[12,1556,215000],[12,673,40000],[12,665,40000],[12,441,160000],[12,349,70000],[12,288,40000],[12,269,40000],[12,218,40000],[12,204,40000],[12,174,40000],[12,164,40000],[12,150,160000],[12,376,4400],[13,1082,27000],[13,904,40000],[13,750,70000],[13,587,40000],[13,445,40000],[13,396,40000],[13,374,110000],[13,328,40000],[13,205,215000],[13,196,70000],[13,174,110000],[13,151,40000],[13,136,40000],[14,513,27000],[14,450,1900000],[14,505,89000],[14,231,27000],[14,196,40000],[14,170,40000],[14,138,70000],[15,655,27000],[15,279,70000],[15,232,40000],[15,210,70000],[15,231,40000],[15,155,10000],[15,147,17500],[16,1122,89000],[16,750,215000],[16,381,280000],[16,146,215000],[17,2265,280000],
[17,868,54000],[18,600,27000],[18,503,215000],[19,503,17500],[17,326,133000],[20,1014,280000],[21,1150,70000],[19,795,110000],[20,851,160000],[21,765,355000],[21,452,89000],[21,400,40000],[23,416,280000],[22,384,17500],[20,272,27000],[22,303,40000],[22,282,40000],[23,258,160000],[24,301,70000],[25,240,40000],[23,226,160000],[22,218,110000],[20,212,110000],[19,221,89000],[18,192,17500],[19,186,160000]
];
const staffHighRows = [
[38,5030,800000],[43,5460,360000],[103,5580,420000],[243,4780,560000],[34,3020,560000],[80,2620,1100000],[46,2400,62000],[27,2280,120000],[33,1940,160000],[51,1930,90000],[82,1990,560000],[43,1790,1900000],[24,1830,420000],[20,1860,40000],[29,1600,250000],[21,1440,360000],[72,1490,4500000],[66,1410,160000],[86,1380,300000],[97,1450,420000],[252,1370,420000],[81,1090,5600000],[78,1170,200000],[27,1230,120000],[41,1220,160000],[47,1170,560000],[48,1160,120000],[55,1080,1300000],[57,1010,1550000],[60,830,5800000],[60,998,120000],[64,944,360000],[66,980,250000],[71,1030,120000],[21,1140,75000],[24,1090,560000],[26,953,490000],[20,1010,250000],[17,858,62000],[19,793,120000],[20,847,130000],[21,760,300000],[22,724,630000],[25,753,120000],[39,1080,250000],[40,1090,40000],[41,1100,40000],[42,1055,250000],[35,887,360000],[37,863,990000],[47,770,560000],[31,721,360000],[33,682,120000],[37,569,10000000],[28,585,720000],[26,530,90000],[23,520,160000],[18,598,22000],[18,498,250000],[19,495,22000],[39,563,160000],[31,491,360000],[33,495,40000],[38,484,120000],[28,450,720000],[28,448,480000],[23,411,360000],[21,452,120000],[21,400,62000],[22,383,22000],[35,441,1100000],[45,467,2240000],[48,525,990000],[48,484,62000],[47,478,40000],[40,435,62000],[41,435,360000],[41,381,3200000],[37,395,200000],[36,395,120000],[38,405,120000],[30,395,120000],[30,356,250000],[31,356,900000],[29,336,200000],[34,370,360000],[37,369,40000],[51,396,720000],[51,374,250000],[55,339,1700000],[50,370,22000],[73,582,1200000],[83,547,560000],[87,610,250000],[89,518,90000],[88,392,7000000],[81,333,120000],[92,292,62000],[103,300,1700000],[118,340,1700000],[108,714,140000],[147,657,250000],[122,515,200000],[161,411,160000],[195,907,360000],[247,793,420000],[295,728,300000],
[17,323,120000],[27,313,160000],[24,301,62000],[22,303,40000],[28,281,300000],[30,282,22000],[22,279,62000],[21,251,900000],[20,271,22000],[23,257,160000],[25,242,40000],[25,231,40000],[34,289,120000],[35,268,490000],[37,254,1300000],[39,303,120000],[39,263,7000000],[46,282,300000],[49,294,200000],[50,328,120000],[51,309,120000],[27,262,90000],[33,231,120000],[27,229,90000],[43,222,720000],[39,220,62000],[23,222,420000],[19,222,120000],[20,212,90000],[22,217,90000],[24,190,990000],[27,191,1700000],[30,191,1100000],[29,198,160000],[23,196,40000],[19,186,200000],[18,191,22000],[17,210,90000],[55,254,40000],[68,254,360000],[64,222,1200000],[67,218,820000],[64,215,120000],[51,207,200000],[55,187,120000],[59,175,62000],[60,159,360000],[62,153,40000],[85,168,90000],[93,174,250000],[112,178,120000],[37,176,300000],[41,182,360000],[41,180,40000],[50,180,420000],[51,176,120000],[29,168,160000],[31,155,120000],[32,162,1300000],[33,154,720000],[31,144,90000],[22,168,200000],[23,157,200000],[25,159,62000],[26,141,1200000],[21,136,420000],[21,137,300000],[18,133,420000],[20,120,720000],[23,135,22000],
[39,147,1550000],[41,150,990000],[38,142,120000],[48,128,5000000],[48,135,2100000],[64,138,250000],[64,122,300000],[58,126,120000],[80,136,90000],[71,114,1200000],[82,113,200000],[80,95,4200000],[79,92,200000],[83,92,120000],[53,91,90000],[50,90,1200000],[49,89,120000],[43,90,1100000],[45,88,120000],[40,89.5,90000],[41,83,200000],[44,77,62000],[48,102,120000],[51,103,90000],[38,105,120000],[34,125,62000],[36,125,40000],[28,115,62000],[26,111,420000],[25,110,62000],[22,111,90000],[23,105,120000],[24,100,40000],[30,99,200000],[29,92,62000],[23,90,120000],[24,86,90000],[27,79,250000],[26,75.5,90000],[29,80,120000],[31,83,90000],[32,82,62000],[31,77,160000],[18,95,62000],[20,92,62000],[17,80,62000],[18,81.5,40000],[19,80,40000],[22,74,22000],[20,74,22000],[24,70,160000],[31,70,40000],[28,64,40000],[27,71,10000],[29,61,62000],[25,60,490000],[24,61.5,90000],[22,61,360000],[18,58,90000],[19,59,90000],[20,56,62000],[23,59,40000],[24,54,90000],[27,54,62000],[36,58,90000],[37,57,62000],[40,63,62000],[40,56,560000],[43,63,90000],[42,63,40000],[61,59,120000],[77,67,40000],[100,58,820000],[150,60,4600000],[51,56,1900000],[47,54,40000],[34,47.5,120000],[47,47,120000],[44,50,62000],[21,51,62000],[19,51,62000],[18,49,250000],[17,49,200000],[25,49,22000]
];
const staffHighlight = [["千葉市",40,12100,912000],["安芸郡奈半利町",3,1570,3790],["東伯郡琴浦町",12,1470,19600],["三好市",10,1320,32900],["岩手郡葛巻町",4,742,7930]];

const countTicks = [1,10,100,1000,10000];
const countMinorTicks = [0.8,0.9,2,3,4,5,6,7,8,9,20,30,40,50,60,70,80,90,200,300,400,500,600,700,800,900,2000,3000,4000,5000,6000,7000,8000,9000,20000,30000,40000];
const popTicks = [1000,10000,100000,1000000,10000000];
const popMinorTicks = [200,300,400,500,600,700,800,900,2000,3000,4000,5000,6000,7000,8000,9000,20000,30000,40000,50000,60000,70000,80000,90000,200000,300000,400000,500000,600000,700000,800000,900000,2000000,3000000,4000000,5000000,6000000,7000000,8000000,9000000,20000000,30000000,40000000,50000000];
const staffTicks = [1,2,5,10,20,50,100,200,500];
const staffMinorTicks = [0.8,0.9,3,4,6,7,8,9,30,40,60,70,80,90,300,400,600];

const FONT = '"Noto Sans CJK JP","Noto Sans",sans-serif';
const RED = '#FF2600';
const thousands = v => Number(v).toLocaleString('en-US');

function mainAxis(gridIndex, min, max, ticks, name, gap, rotate, pos, fmt, tickLen, margin) {
  return {
    type:'log', logBase:10, gridIndex, min, max, position:pos,
    name, nameLocation:'middle', nameGap:gap, nameRotate:rotate,
    nameTextStyle:{fontFamily:FONT,fontSize:19,color:'#222'},
    axisLine:{show:true,onZero:false,lineStyle:{color:'#000',width:1.4}},
    axisTick:{show:true,length:tickLen,customValues:ticks,lineStyle:{color:'#000',width:1}},
    axisLabel:{show:true,customValues:ticks,margin,fontFamily:FONT,fontSize:15,color:'#222',formatter:fmt,hideOverlap:false,showMinLabel:true,showMaxLabel:true},
    splitLine:{show:false}, minorTick:{show:false}, minorSplitLine:{show:false}
  };
}
function minorAxis(gridIndex, min, max, ticks, pos, tickLen) {
  return {
    type:'log', logBase:10, gridIndex, min, max, position:pos,
    axisLine:{show:false,onZero:false},
    axisTick:{show:true,length:tickLen,customValues:ticks,lineStyle:{color:'#000',width:1}},
    axisLabel:{show:false}, splitLine:{show:false}, minorTick:{show:false}
  };
}
function circles(xi, yi, data, k) {
  return {
    type:'scatter', xAxisIndex:xi, yAxisIndex:yi, data, progressive:0, silent:true,
    symbol:'circle', symbolSize:v=>k*Math.sqrt(v[2]),
    itemStyle:{color:'rgba(0,0,0,0)',borderColor:'#000',borderWidth:1.15,opacity:1},
    z:2
  };
}
function highlights(xi, yi, rows, k) {
  return {
    type:'scatter', xAxisIndex:xi, yAxisIndex:yi, silent:true,
    data:rows.map(r=>({name:r[0],value:[r[1],r[2],r[3]]})),
    symbol:'circle', symbolSize:v=>k*Math.sqrt(v[2]),
    itemStyle:{color:RED,borderWidth:0,opacity:1}, z:3,
    label:{show:true,position:'inside',align:'left',verticalAlign:'middle',offset:[7,-6],formatter:'{b}',fontFamily:FONT,fontSize:14,color:RED}
  };
}
const kStaff = 1.8, kPop = 0.0151;
const titleStyle = {fontFamily:FONT,fontSize:26.5,fontWeight:'bold',color:'#000'};
const subStyle = {fontFamily:FONT,fontSize:14.5,color:'#333'};
const option = {
  animation:false, backgroundColor:'#fff',
  title:[
    {text:'平成20年度  社会教育行政',left:119,top:25,textStyle:titleStyle,subtext:'点の大きさは職員数に比例',itemGap:6,subtextStyle:subStyle},
    {text:'平成20年度  社会教育行政',left:119,top:900,textStyle:titleStyle,subtext:'点の大きさは人口に比例',itemGap:6,subtextStyle:subStyle}
  ],
  grid:[
    {left:100.5,right:3,top:10,height:768,containLabel:false},
    {left:100.5,right:3,top:885,height:767.5,containLabel:false}
  ],
  xAxis:[
    mainAxis(0,125,50000000,popTicks,'人口',34,0,'bottom',thousands,7,9),
    minorAxis(0,125,50000000,popMinorTicks,'bottom',4),
    mainAxis(1,0.8,600,staffTicks,'職員数',35,0,'bottom',thousands,7,9),
    minorAxis(1,0.8,600,staffMinorTicks,'bottom',4)
  ],
  yAxis:[
    mainAxis(0,0.8,40000,countTicks,'学級・講座 実施件数',69,90,'left',thousands,9,12.5),
    minorAxis(0,0.8,40000,countMinorTicks,'left',4.5),
    mainAxis(1,0.8,40000,countTicks,'学級・講座 実施件数',69,90,'left',thousands,9,12.5),
    minorAxis(1,0.8,40000,countMinorTicks,'left',4.5)
  ],
  series:[
    circles(0,0,popLowRows,kStaff),
    circles(0,0,popMidRows,kStaff),
    circles(0,0,popCoreUpper,kStaff),
    circles(0,0,popCoreLower,kStaff),
    circles(0,0,popHighRows,kStaff),
    highlights(0,0,popHighlight,kStaff),
    circles(2,2,staffLowRows,kPop),
    circles(2,2,staffMidRows,kPop),
    circles(2,2,staffColumnRows,kPop),
    circles(2,2,staffHighRows,kPop),
    highlights(2,2,staffHighlight,kPop)
  ]
};
const chart = echarts.init(document.getElementById('c'),null,{renderer:'canvas'});
chart.setOption(option);
</script></body></html>
